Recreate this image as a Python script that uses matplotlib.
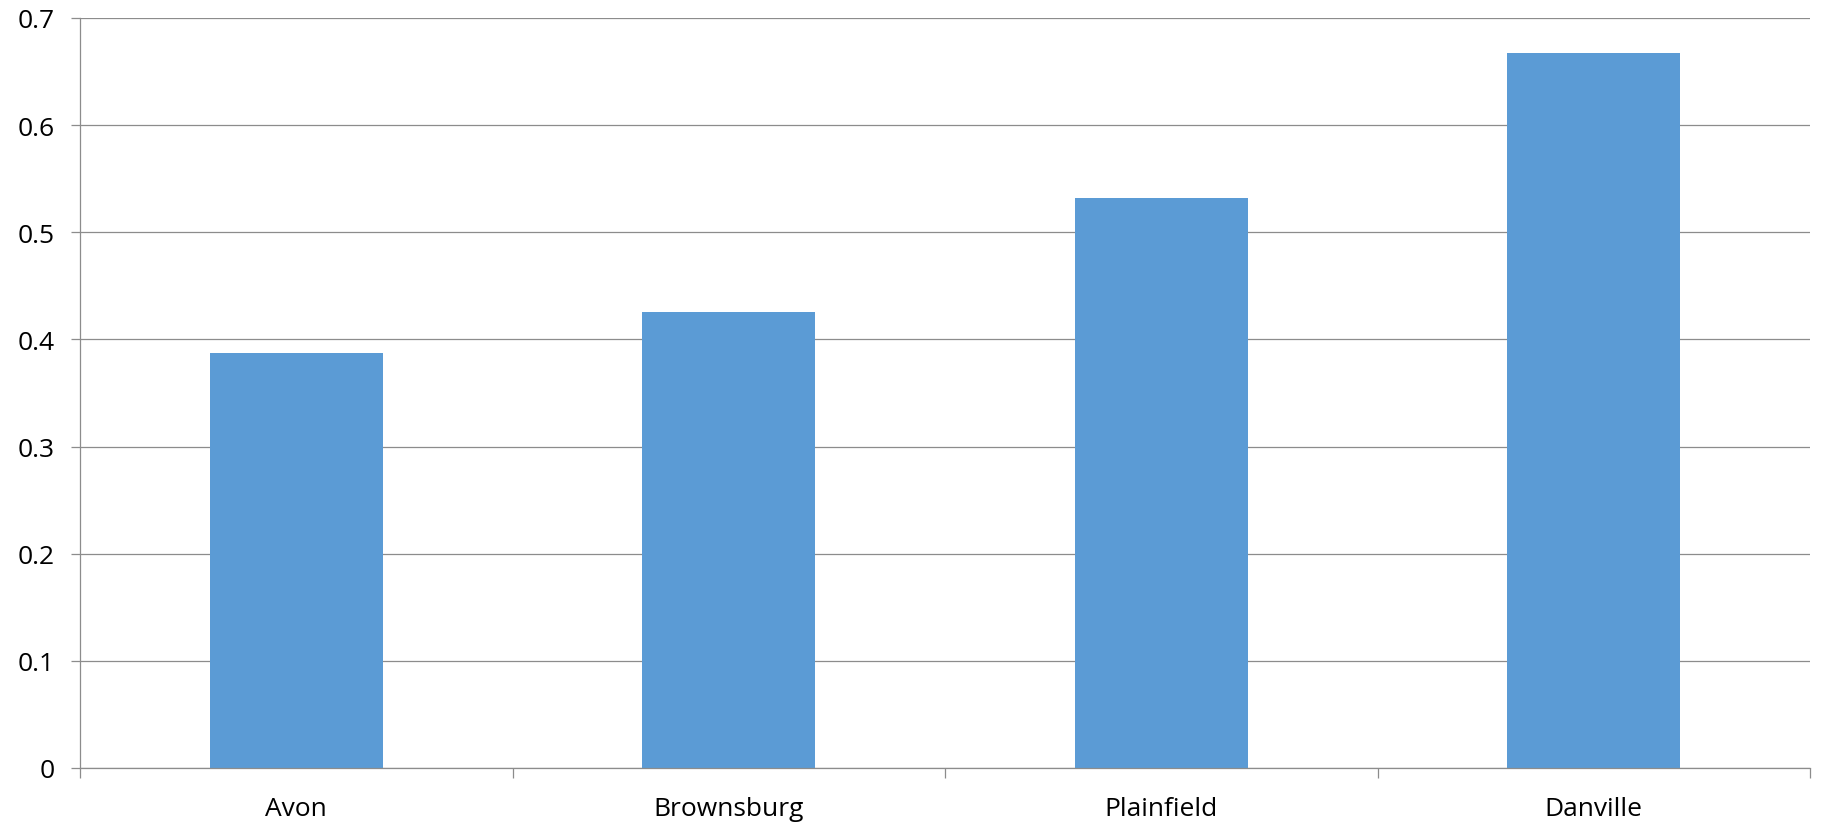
import numpy as np
import matplotlib
matplotlib.use('Agg')
import matplotlib.pyplot as plt
from matplotlib.ticker import FuncFormatter, FixedLocator

# dades del gràfic
towns = ['Avon', 'Brownsburg', 'Plainfield', 'Danville']
values = [0.3875, 0.426, 0.532, 0.667]
yticks = [0, 0.1, 0.2, 0.3, 0.4, 0.5, 0.6, 0.7]

plt.rcParams['font.family'] = ['Open Sans', 'DejaVu Sans']

fig = plt.figure(figsize=(18.21, 8.28), dpi=100)
ax = fig.add_axes([80/1821, 59/828, 1730/1821, 750/828])

x = np.arange(len(towns))
ax.bar(x, values, width=0.4, color='#5B9BD5', zorder=3)

ax.set_xlim(-0.5, len(towns) - 0.5)
ax.set_ylim(0, 0.7)
ax.set_yticks(yticks)
ax.yaxis.set_major_formatter(FuncFormatter(lambda v, p: f'{v:g}'))
ax.grid(axis='y', color='#8c8c8c', linewidth=0.9, zorder=0)

ax.set_xticks(x)
ax.set_xticklabels(towns)
ax.xaxis.set_minor_locator(FixedLocator(np.arange(len(towns) + 1) - 0.5))
ax.tick_params(axis='x', which='major', length=0, pad=20, labelsize=19)
ax.tick_params(axis='x', which='minor', length=7, color='#8c8c8c', width=0.9)
ax.tick_params(axis='y', length=6.5, color='#8c8c8c', width=0.9, pad=12, labelsize=19)

for s in ['top', 'right']:
    ax.spines[s].set_visible(False)
for s in ['left', 'bottom']:
    ax.spines[s].set_color('#8c8c8c')
    ax.spines[s].set_linewidth(0.9)
    ax.spines[s].set_zorder(4)

fig.savefig('out.png', dpi=100)
